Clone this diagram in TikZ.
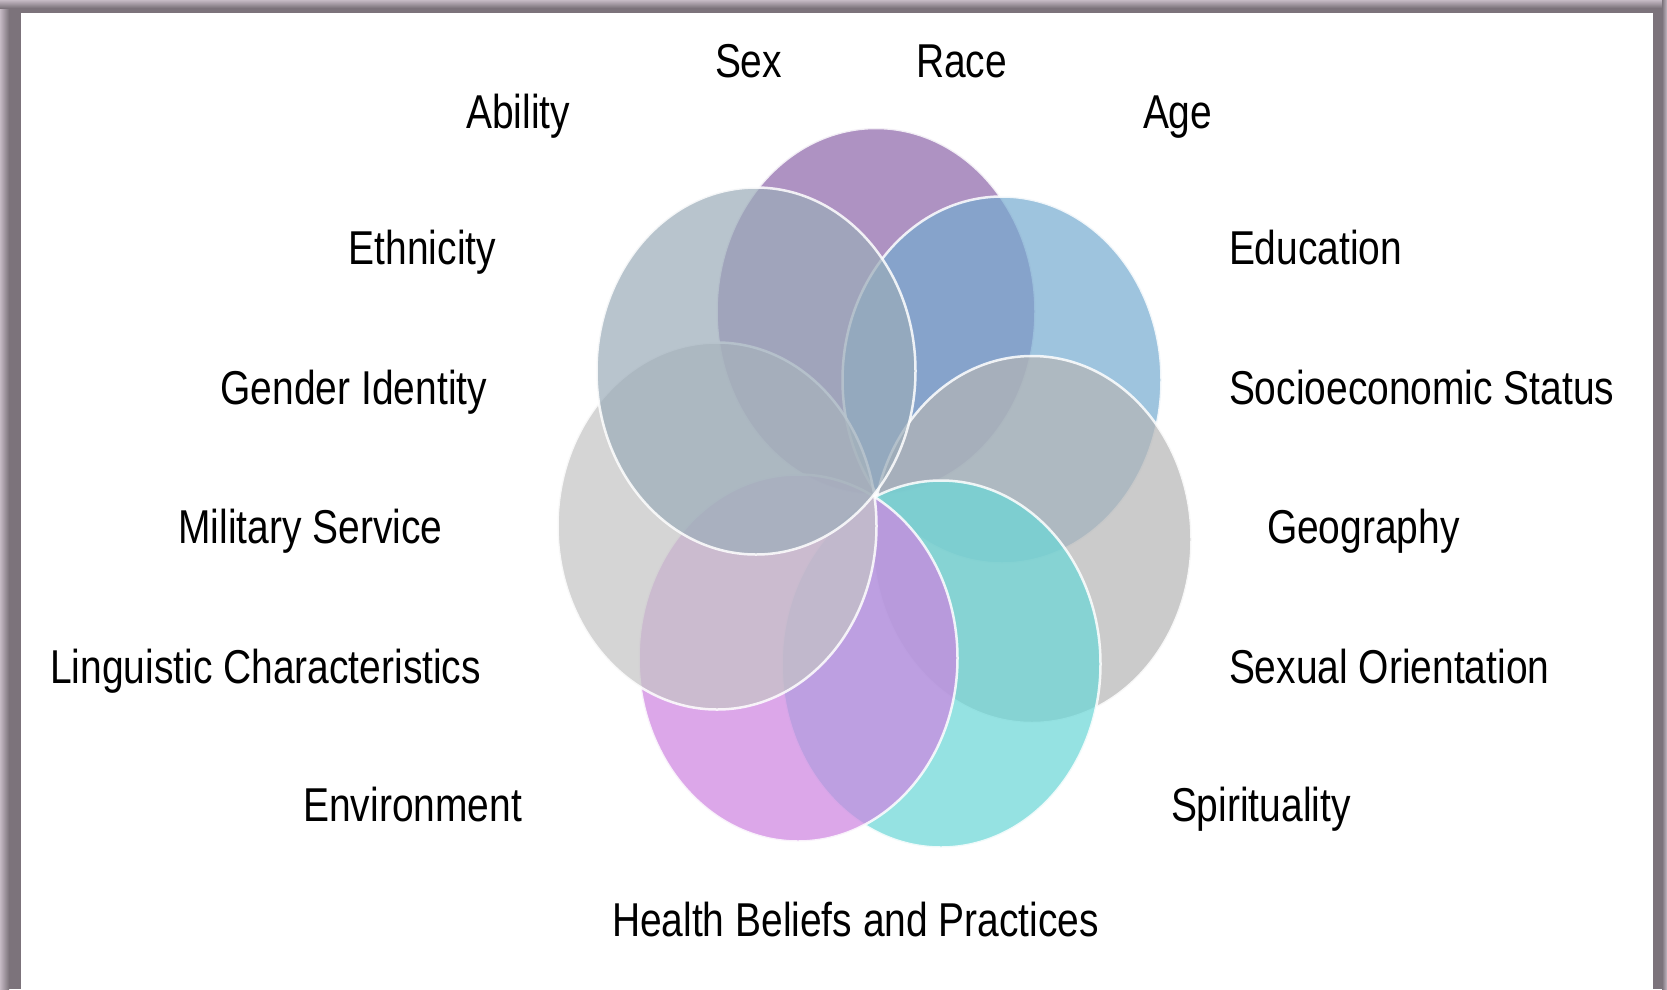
\documentclass[tikz,border=0pt]{standalone}
\usepackage{fontspec}
\setmainfont{Liberation Sans}[FakeStretch=0.82]
\usetikzlibrary{shapes.geometric}
\definecolor{framedark}{RGB}{124,115,123}
\definecolor{framelight}{RGB}{197,186,196}
\definecolor{cPurple}{RGB}{141,101,169}
\definecolor{cBlue}{RGB}{118,171,208}
\definecolor{cGrayR}{RGB}{181,181,181}
\definecolor{cTeal}{RGB}{105,215,215}
\definecolor{cPink}{RGB}{206,131,225}
\definecolor{cGrayL}{RGB}{196,196,196}
\definecolor{cGrayBlue}{RGB}{155,172,185}
\tikzset{
  petal/.style={ellipse, inner sep=0pt, outer sep=0pt, minimum width=319pt, minimum height=367pt,
    fill opacity=0.7, draw=white, draw opacity=0.85, line width=2.5pt},
  lbl/.style={inner sep=0pt, outer sep=0pt, font=\fontsize{47.5}{50}\selectfont, text=black}
}
\begin{document}
\begin{tikzpicture}[x=1pt, y=-1pt]
\useasboundingbox (0,0) rectangle (1667,989);
\fill[white] (0,0) rectangle (1667,989);
% frame
\fill[framedark] (0,0) rectangle (21,989);
\fill[framedark] (0,0) rectangle (1667,13);
\fill[framedark] (1653,0) rectangle (1667,989);
\shade[left color=framelight, right color=framedark] (0,0) rectangle (9,989);
\shade[top color=framelight, bottom color=framedark] (0,0) rectangle (1667,8);
\shade[left color=framedark, right color=framelight] (1662,0) rectangle (1667,989);
% petals (clockwise stacking)
\node[petal, fill=cPurple]   (p0) at (876,311.5) {};
\node[petal, fill=cBlue]     (p1) at (1002,380) {};
\node[petal, fill=cGrayR]    (p2) at (1032,539.5) {};
\node[petal, fill=cTeal]     (p3) at (941,664) {};
\node[petal, fill=cPink]     (p4) at (798,658) {};
\node[petal, fill=cGrayL]    (p5) at (717,526) {};
\node[petal, fill=cGrayBlue] (p6) at (756,371) {};
% labels
\node[lbl, anchor=base west] (sex)  at (715,77) {Sex};
\node[lbl, anchor=base west] (race) at (916,77) {Race};
\node[lbl, anchor=base east] (ability) at (570,128) {Ability};
\node[lbl, anchor=base west] (age) at (1143,128) {Age};
\node[lbl, anchor=base east] (eth) at (496,264.5) {Ethnicity};
\node[lbl, anchor=base west] (edu) at (1229,264.5) {Education};
\node[lbl, anchor=base east] (gen) at (487,404) {Gender Identity};
\node[lbl, anchor=base west] (ses) at (1229,404) {Socioeconomic Status};
\node[lbl, anchor=base east] (mil) at (442.5,543.5) {Military Service};
\node[lbl, anchor=base west] (geo) at (1267,543.5) {Geography};
\node[lbl, anchor=base east] (lin) at (481,683) {Linguistic Characteristics};
\node[lbl, anchor=base west] (sxo) at (1229,683) {Sexual Orientation};
\node[lbl, anchor=base east] (env) at (522,821) {Environment};
\node[lbl, anchor=base west] (spi) at (1171,821) {Spirituality};
\node[lbl, anchor=base west] (hbp) at (612,936) {Health Beliefs and Practices};
\end{tikzpicture}
\end{document}
